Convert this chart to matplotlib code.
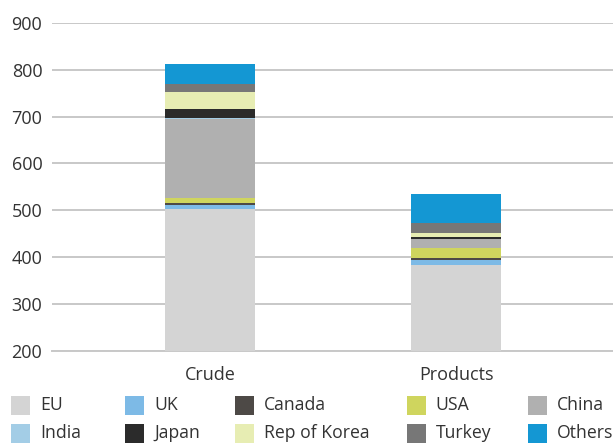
import matplotlib
matplotlib.use("Agg")
import matplotlib.pyplot as plt
from matplotlib.patches import Rectangle
import numpy as np

plt.rcParams['font.family'] = ['Open Sans', 'DejaVu Sans']

categories = ["Crude", "Products"]
series = ["EU", "UK", "Canada", "USA", "China", "India", "Japan", "Rep of Korea", "Turkey", "Others"]
eu = [502, 383]
uk = [9, 11]
canada = [4, 4]
usa = [11, 21]
china = [168, 19]
india = [3, 0]
japan = [19, 5]
korea = [36, 9]
turkey = [18, 20]
others = [41, 62]
values = [eu, uk, canada, usa, china, india, japan, korea, turkey, others]
colors = ["#d4d4d4", "#7dbae6", "#4d4946", "#cfd55e", "#b0b0b0",
          "#a3cde6", "#2b2b2b", "#e7edb3", "#777777", "#1497d3"]
yticks = [200, 300, 400, 500, 600, 700, 800, 900]

W, H = 613, 443
fig = plt.figure(figsize=(W / 100, H / 100), dpi=100)
ax = fig.add_axes([52 / W, (H - 351) / H, (W - 52) / W, (351 - 22.7) / H])

x = np.arange(len(categories))
bottom = np.zeros(len(categories))
for name, vals, col in zip(series, values, colors):
    v = np.array(vals, dtype=float)
    ax.bar(x, v, 0.366, bottom=bottom, color=col, label=name, zorder=3)
    bottom += v

ax.set_ylim(200, 900)
ax.set_xlim(-0.642, 1.638)
ax.set_yticks(yticks)
ax.set_xticks(x)
ax.set_xticklabels(categories)
ax.yaxis.grid(True, color="#c8c8c8", linewidth=1.4, zorder=0)
ax.set_axisbelow(True)
for s in ["top", "right", "left"]:
    ax.spines[s].set_visible(False)
ax.spines["bottom"].set_color("#c8c8c8")
ax.spines["bottom"].set_linewidth(1.4)
ax.tick_params(axis="both", length=0, labelsize=13, colors="#333333")
ax.tick_params(axis="y", pad=7)
ax.tick_params(axis="x", pad=11)

# legend laid out in two rows of five
col_left = [11, 125, 235, 406.5, 528]
row_center = [405.5, 433]
order = [["EU", "UK", "Canada", "USA", "China"],
         ["India", "Japan", "Rep of Korea", "Turkey", "Others"]]
cmap = dict(zip(series, colors))
sq = 19
for r, row in enumerate(order):
    for c, name in enumerate(row):
        x0 = col_left[c]
        yc = row_center[r]
        fig.add_artist(Rectangle((x0 / W, (H - yc - sq / 2) / H), sq / W, sq / H,
                                 transform=fig.transFigure, color=cmap[name], lw=0))
        fig.text((x0 + 29) / W, (H - yc) / H, name, fontsize=12.7, color="#333333",
                 va="center", ha="left")

fig.savefig("out.png", dpi=100)
